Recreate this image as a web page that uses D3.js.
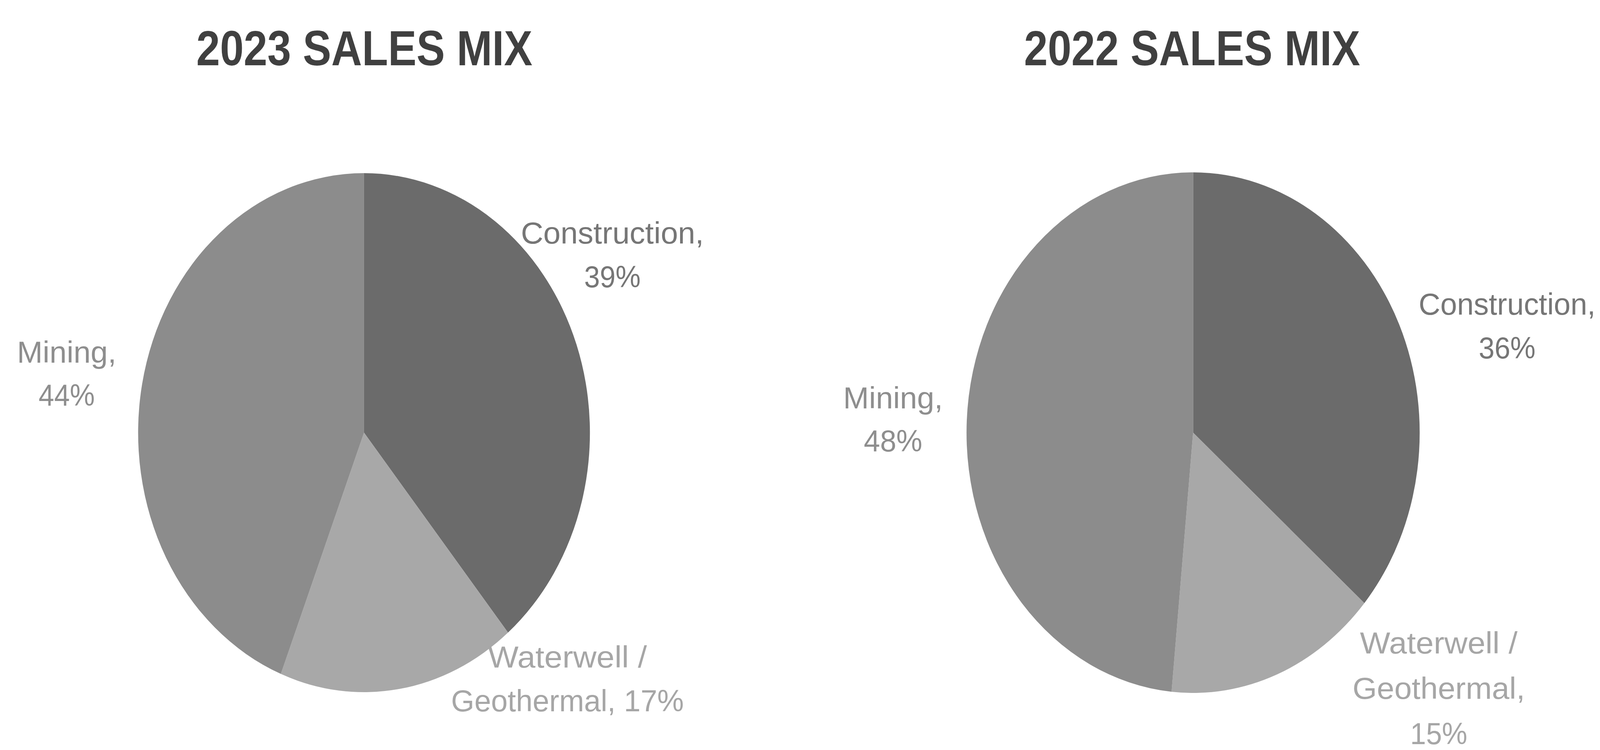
<!DOCTYPE html>
<html>
<head>
<meta charset="utf-8">
<script src="https://cdn.jsdelivr.net/npm/d3@7"></script>
<style>
  html, body { margin: 0; padding: 0; background: #fff; overflow: hidden; }
  svg { display: block; width: 100vw; height: 100vh; }
  .title { font-family: 'Liberation Sans', Arial, sans-serif; font-weight: bold; fill: #404040; }
  .label { font-family: 'Liberation Sans', Arial, sans-serif; }
</style>
</head>
<body>
<div id="chart"></div>
<script>
// data
const categories = ['Construction', 'Waterwell / Geothermal', 'Mining'];
const sales2023 = [39, 17, 44];
const sales2022 = [36, 15, 48];
const titles = ['2023 SALES MIX', '2022 SALES MIX'];

const W = 4703;
const H = 1919;

const sliceColors = ['#6b6b6b', '#a8a8a8', '#8c8c8c'];
const labelColors = ['#767676', '#a6a6a6', '#8e8e8e'];

// where each pie sits and how its labels were dragged around
const layouts = [
  {
    cx: 1070, cy: 1107, r: 664,
    titleX: 1071, titleY: 167, titleW: 988,
    labels: [
      { x: 1800, y: 623, lh: 112, groups: [1, 1], widths: [538, 166] },
      { x: 1668, y: 1708, lh: 112, groups: [2, 2], widths: [467, 684] },
      { x: 196, y: 928, lh: 110, groups: [1, 1], widths: [292, 165] }
    ]
  },
  {
    cx: 3507, cy: 1107, r: 666,
    titleX: 3504, titleY: 167, titleW: 988,
    labels: [
      { x: 4430, y: 805, lh: 112, groups: [1, 1], widths: [520, 167] },
      { x: 4229, y: 1672, lh: 116, groups: [2, 1, 1], widths: [463, 507, 168] },
      { x: 2625, y: 1045, lh: 110, groups: [1, 1], widths: [293, 172] }
    ]
  }
];

// fixed drawing space, stretched onto whatever the window is
const svg = d3.select('#chart').append('svg')
  .attr('viewBox', `0 0 ${W} ${H}`)
  .attr('preserveAspectRatio', 'none');

function pieChart (values, title, lay) {
  const data = categories.map((c, i) => ({ key: c, value: values[i], i }));

  const pie = d3.pie()
    .sort(null)
    .value((d) => d.value);

  const arc = d3.arc()
    .innerRadius(0)
    .outerRadius(lay.r);

  const g = svg.append('g');

  g.append('text')
    .attr('class', 'title')
    .attr('x', lay.titleX)
    .attr('y', lay.titleY)
    .attr('text-anchor', 'middle')
    .attr('font-size', 126)
    .attr('textLength', lay.titleW)
    .attr('lengthAdjust', 'spacingAndGlyphs')
    .text(title);

  const pg = g.append('g')
    .attr('transform', `translate(${lay.cx},${lay.cy})`);

  pg.selectAll('path')
    .data(pie(data))
    .enter().append('path')
    .attr('d', arc)
    .attr('fill', (d) => sliceColors[d.data.i]);

  // data labels: "Name, NN%" broken into lines like the original
  data.forEach((d, i) => {
    const spec = lay.labels[i];
    const words = `${d.key}, ${d.value}%`.split(' ');
    let k = 0;
    const lines = spec.groups.map((n) => {
      const line = words.slice(k, k + n).join(' ');
      k += n;
      return line;
    });
    g.selectAll(null)
      .data(lines)
      .enter().append('text')
      .attr('class', 'label')
      .attr('x', spec.x)
      .attr('y', (t, j) => spec.y + j * spec.lh)
      .attr('text-anchor', 'middle')
      .attr('font-size', 78)
      .attr('fill', labelColors[i])
      .attr('textLength', (t, j) => spec.widths[j])
      .attr('lengthAdjust', 'spacingAndGlyphs')
      .text((t) => t);
  });
}

pieChart(sales2023, titles[0], layouts[0]);
pieChart(sales2022, titles[1], layouts[1]);
</script>
</body>
</html>
